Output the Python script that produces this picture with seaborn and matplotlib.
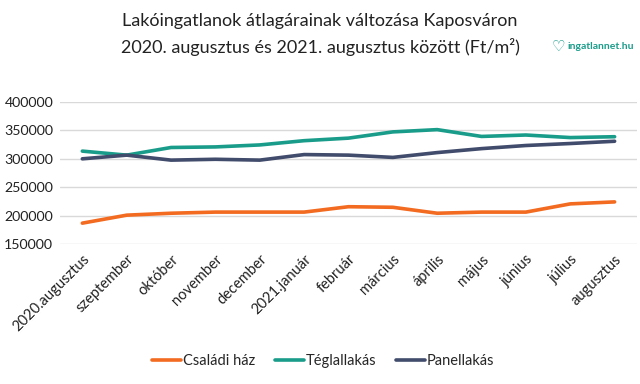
import matplotlib
matplotlib.use("Agg")
import matplotlib.pyplot as plt
import pandas as pd
import seaborn as sns

honapok = ["2020.augusztus", "szeptember", "október", "november", "december",
           "2021.január", "február", "március", "április", "május", "június",
           "július", "augusztus"]
csaladi_haz = [186500, 200600, 204000, 206000, 206000, 206000, 215500,
               214500, 204000, 206000, 206000, 220500, 224000]
teglalakas = [313600, 306500, 320000, 321000, 324500, 332000, 336500,
              347500, 351500, 339500, 342000, 337500, 339000]
panellakas = [300000, 306500, 297700, 299200, 297700, 307500, 306500,
              302500, 311000, 318000, 323500, 327000, 331000]

sorozatok = ["Családi ház", "Téglallakás", "Panellakás"]
szinek = ["#F26B21", "#1A9C8A", "#414B6B"]

df = pd.DataFrame({"honap": honapok * 3,
                   "ar": csaladi_haz + teglalakas + panellakas,
                   "tipus": [s for s in sorozatok for _ in honapok]})
df["pozicio"] = list(range(len(honapok))) * 3

sns.set_theme(style="white")
plt.rcParams["font.family"] = ["Lato", "DejaVu Sans"]

fig = plt.figure(figsize=(6.4, 3.84), dpi=100)
ax = fig.add_axes([0.094, 0.365, 0.901, 0.369])

sns.lineplot(data=df, x="pozicio", y="ar", hue="tipus", palette=szinek,
             linewidth=2.6, ax=ax, legend=False)

ax.set_xlim(-0.5, len(honapok) - 0.5)
ax.set_ylim(150000, 400000)
ax.set_yticks(range(150000, 400001, 50000))
ax.set_yticklabels([str(v) for v in range(150000, 400001, 50000)], fontsize=10.2, color="#222222")
ax.set_xticks(range(len(honapok)))
ax.set_xticklabels(honapok, rotation=45, ha="right", rotation_mode="anchor",
                   fontsize=10.5, color="#222222")
ax.tick_params(axis="y", length=0, pad=5)
ax.tick_params(axis="x", length=0, pad=6)
ax.yaxis.grid(True, color="#d9d9d9", linewidth=1)
ax.set_xlabel("")
ax.set_ylabel("")
for s in ax.spines.values():
    s.set_visible(False)

fig.text(0.5, 0.945, "Lakóingatlanok átlagárainak változása Kaposváron",
         ha="center", va="center", fontsize=13, color="#222222")
fig.text(0.5, 0.878, "2020. augusztus és 2021. augusztus között (Ft/m²)",
         ha="center", va="center", fontsize=13, color="#222222")

# logo
fig.text(0.872, 0.878, "♡", ha="center", va="center", fontsize=11,
         color="#1A9C8A", family="DejaVu Sans", fontweight="bold")
fig.text(0.886, 0.878, "ingatlannet.hu", ha="left", va="center", fontsize=7.5,
         color="#1A9C8A", fontweight="bold")

# legend
kezelok = [plt.Line2D([], [], color=c, linewidth=2.6) for c in szinek]
fig.legend(kezelok, sorozatok, loc="center", bbox_to_anchor=(0.505, 0.06),
           ncol=3, frameon=False, fontsize=10.5, handlelength=2.0,
           handletextpad=0.15, columnspacing=1.3)

fig.savefig("out.png", dpi=100)
